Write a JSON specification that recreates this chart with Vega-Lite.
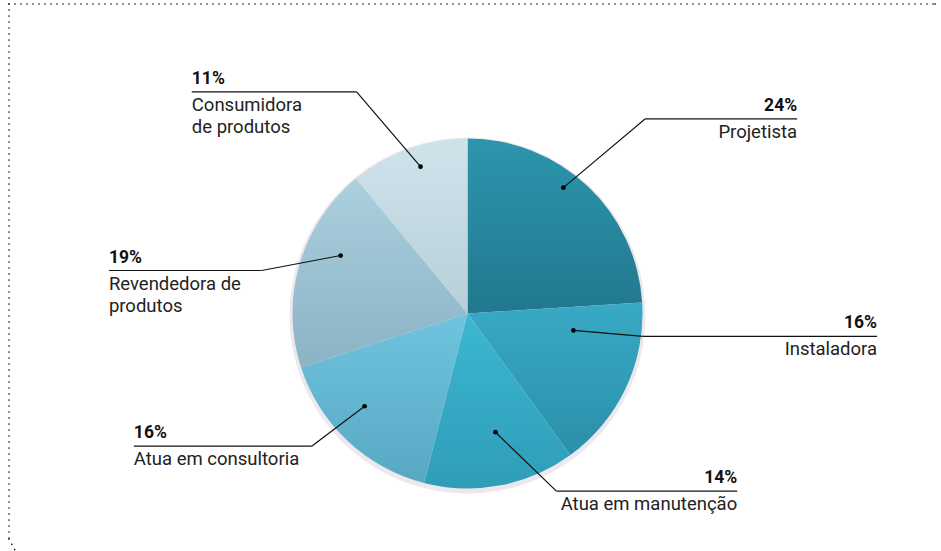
{
  "$schema": "https://vega.github.io/schema/vega-lite/v6.json",
  "width": 941,
  "height": 551,
  "autosize": {"type": "fit", "contains": "padding"},
  "padding": 0,
  "background": "white",
  "config": {"view": {"stroke": null}},
  "datasets": {
    "slices": [
      {"ord": 1, "category": "Projetista", "pct": 24},
      {"ord": 2, "category": "Instaladora", "pct": 16},
      {"ord": 3, "category": "Atua em manutenção", "pct": 14},
      {"ord": 4, "category": "Atua em consultoria", "pct": 16},
      {"ord": 5, "category": "Revendedora de produtos", "pct": 19},
      {"ord": 6, "category": "Consumidora de produtos", "pct": 11}
    ],
    "labels": [
      {"category": "Projetista", "pctText": "24%", "name": "Projetista", "side": "right", "dx": 564, "dy": 188, "bx": 646, "by": 119, "ex": 798},
      {"category": "Instaladora", "pctText": "16%", "name": "Instaladora", "side": "right", "dx": 574, "dy": 331, "bx": 644, "by": 337, "ex": 878},
      {"category": "Atua em manutenção", "pctText": "14%", "name": "Atua em manutenção", "side": "right", "dx": 496, "dy": 433, "bx": 557, "by": 492, "ex": 738},
      {"category": "Atua em consultoria", "pctText": "16%", "name": "Atua em consultoria", "side": "left", "dx": 365, "dy": 407, "bx": 312, "by": 447, "ex": 134},
      {"category": "Revendedora de produtos", "pctText": "19%", "name": "Revendedora de\nprodutos", "side": "left", "dx": 341, "dy": 256, "bx": 262, "by": 271, "ex": 109},
      {"category": "Consumidora de produtos", "pctText": "11%", "name": "Consumidora\nde produtos", "side": "left", "dx": 421, "dy": 167, "bx": 357, "by": 92, "ex": 192}
    ],
    "border": [
      {"x": 9, "y": 4, "x2": 936, "y2": 4},
      {"x": 9, "y": 4, "x2": 9, "y2": 540},
      {"x": 9, "y": 540, "x2": 15, "y2": 551},
      {"x": 936, "y": 4, "x2": 941, "y2": 7}
    ]
  },
  "layer": [
    {
      "data": {"name": "border"},
      "mark": {"type": "rule", "color": "#111", "strokeWidth": 1.6, "strokeDash": [0.1, 5.9], "strokeCap": "round"},
      "encoding": {
        "x": {"field": "x", "type": "quantitative", "scale": {"domain": [0, 941], "nice": false, "zero": false}, "axis": null},
        "y": {"field": "y", "type": "quantitative", "scale": {"domain": [0, 551], "nice": false, "zero": false, "reverse": true}, "axis": null},
        "x2": {"field": "x2"},
        "y2": {"field": "y2"}
      }
    },
    {
      "data": {"name": "slices"},
      "mark": {"type": "arc", "outerRadius": 178, "color": "#dcd6de", "opacity": 0.55},
      "encoding": {
        "theta": {"field": "pct", "type": "quantitative", "stack": true},
        "order": {"field": "ord"},
        "x": {"datum": 468, "type": "quantitative"},
        "y": {"datum": 316, "type": "quantitative"}
      }
    },
    {
      "data": {"name": "slices"},
      "mark": {"type": "arc", "outerRadius": 175},
      "encoding": {
        "theta": {"field": "pct", "type": "quantitative", "stack": true},
        "order": {"field": "ord"},
        "color": {
          "condition": [
            {"test": "datum.category == 'Projetista'", "value": {"gradient": "linear", "x1": 0, "y1": 0, "x2": 0, "y2": 1, "stops": [{"offset": 0, "color": "#2c95ad"}, {"offset": 1, "color": "#22788e"}]}},
            {"test": "datum.category == 'Instaladora'", "value": {"gradient": "linear", "x1": 0, "y1": 0, "x2": 0, "y2": 1, "stops": [{"offset": 0, "color": "#38aac5"}, {"offset": 1, "color": "#2b8fa9"}]}},
            {"test": "datum.category == 'Atua em manutenção'", "value": {"gradient": "linear", "x1": 0, "y1": 0, "x2": 0, "y2": 1, "stops": [{"offset": 0, "color": "#3cb7d2"}, {"offset": 1, "color": "#2f9db8"}]}},
            {"test": "datum.category == 'Atua em consultoria'", "value": {"gradient": "linear", "x1": 0, "y1": 0, "x2": 0, "y2": 1, "stops": [{"offset": 0, "color": "#6fc4de"}, {"offset": 1, "color": "#58a8c3"}]}},
            {"test": "datum.category == 'Revendedora de produtos'", "value": {"gradient": "linear", "x1": 0, "y1": 0, "x2": 0, "y2": 1, "stops": [{"offset": 0, "color": "#abd0de"}, {"offset": 1, "color": "#8bb3c5"}]}}
          ],
          "value": {"gradient": "linear", "x1": 0, "y1": 0, "x2": 0, "y2": 1, "stops": [{"offset": 0, "color": "#cfe3eb"}, {"offset": 1, "color": "#b8cfd9"}]}
        },
        "x": {"datum": 468, "type": "quantitative"},
        "y": {"datum": 314, "type": "quantitative"}
      }
    },
    {
      "data": {"name": "labels"},
      "mark": {"type": "rule", "color": "#111", "strokeWidth": 1.2},
      "encoding": {
        "x": {"field": "dx", "type": "quantitative"},
        "y": {"field": "dy", "type": "quantitative"},
        "x2": {"field": "bx"},
        "y2": {"field": "by"}
      }
    },
    {
      "data": {"name": "labels"},
      "mark": {"type": "rule", "color": "#111", "strokeWidth": 1.2},
      "encoding": {
        "x": {"field": "bx", "type": "quantitative"},
        "y": {"field": "by", "type": "quantitative"},
        "x2": {"field": "ex"}
      }
    },
    {
      "data": {"name": "labels"},
      "mark": {"type": "point", "filled": true, "color": "#000", "size": 22, "opacity": 1},
      "encoding": {
        "x": {"field": "dx", "type": "quantitative"},
        "y": {"field": "dy", "type": "quantitative"}
      }
    },
    {
      "data": {"name": "labels"},
      "transform": [{"filter": "datum.side == 'left'"}],
      "mark": {"type": "text", "align": "left", "baseline": "alphabetic", "dy": -8, "font": "Roboto", "fontWeight": "bold", "fontSize": 17.5, "color": "#111"},
      "encoding": {
        "x": {"field": "ex", "type": "quantitative"},
        "y": {"field": "by", "type": "quantitative"},
        "text": {"field": "pctText"}
      }
    },
    {
      "data": {"name": "labels"},
      "transform": [{"filter": "datum.side == 'right'"}],
      "mark": {"type": "text", "align": "right", "baseline": "alphabetic", "dy": -8, "font": "Roboto", "fontWeight": "bold", "fontSize": 17.5, "color": "#111"},
      "encoding": {
        "x": {"field": "ex", "type": "quantitative"},
        "y": {"field": "by", "type": "quantitative"},
        "text": {"field": "pctText"}
      }
    },
    {
      "data": {"name": "labels"},
      "transform": [{"filter": "datum.side == 'left'"}],
      "mark": {"type": "text", "align": "left", "baseline": "alphabetic", "dy": 19, "font": "Roboto", "fontSize": 18.5, "lineHeight": 22, "lineBreak": "\n", "color": "#222"},
      "encoding": {
        "x": {"field": "ex", "type": "quantitative"},
        "y": {"field": "by", "type": "quantitative"},
        "text": {"field": "name"}
      }
    },
    {
      "data": {"name": "labels"},
      "transform": [{"filter": "datum.side == 'right'"}],
      "mark": {"type": "text", "align": "right", "baseline": "alphabetic", "dy": 19, "font": "Roboto", "fontSize": 18.5, "lineHeight": 22, "lineBreak": "\n", "color": "#222"},
      "encoding": {
        "x": {"field": "ex", "type": "quantitative"},
        "y": {"field": "by", "type": "quantitative"},
        "text": {"field": "name"}
      }
    }
  ]
}
